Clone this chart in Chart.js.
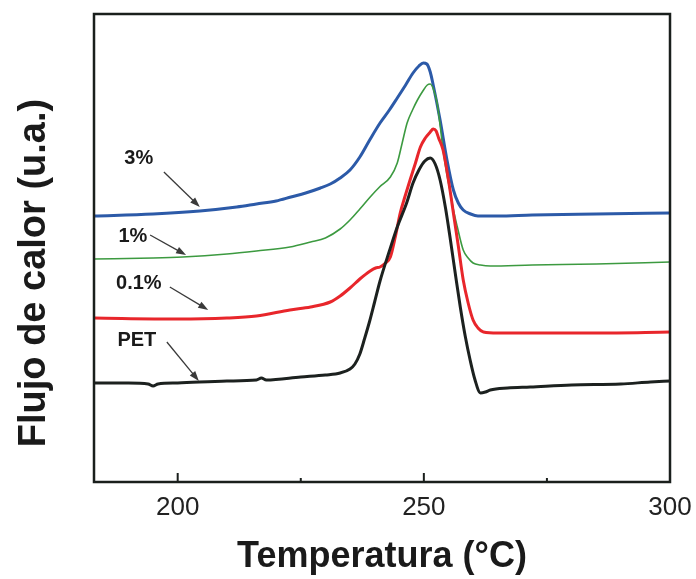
<!DOCTYPE html>
<html>
<head>
<meta charset="utf-8">
<script src="https://cdn.jsdelivr.net/npm/chart.js@4.4.1/dist/chart.umd.min.js"></script>
<style>
    body { margin: 0; background: #ffffff; }
    canvas { display: block; }
</style>
</head>
<body>
<canvas id="dscChart" width="696" height="579"></canvas>
<script>
// Temperature (°C) and heat flow (a.u.)
const petTemp = [183, 190, 194, 195, 196, 200, 210, 216, 217, 218, 225, 230, 233, 235, 236, 237, 238, 239, 240, 241.1, 243, 244.6, 246.5, 247.8, 249, 250.2, 251.3, 252.3, 253.3, 254.4, 255.4, 256.4, 257.4, 258.4, 259.4, 260.4, 261.5, 262.5, 263.5, 267, 271.6, 280, 290, 296, 300];
const petFlow = [99, 99, 98, 96, 98, 99, 101, 102, 104, 102, 105, 107, 109, 113, 118, 128, 144, 161, 180, 201, 231, 255, 279, 299, 312, 321, 324, 318, 302, 274, 242, 208, 175, 146, 122, 102, 89, 90, 92, 94, 95, 97, 98, 100, 101];

const p01Temp = [183, 200, 210, 216, 222.8, 227, 231, 233, 235, 237, 239.1, 240.2, 241.1, 242.2, 243.2, 244.2, 245.2, 246.2, 247.2, 248.3, 249.3, 250.3, 251.3, 251.9, 252.5, 253, 253.9, 255, 256, 257, 258, 259, 260, 261, 262.1, 265, 272, 285, 300];
const p01Flow = [164, 163, 164, 166, 172, 175, 180, 186, 194, 203, 211, 214, 215, 219, 225, 245, 269, 286, 302, 319, 335, 344, 350, 353, 351, 344, 332, 302, 269, 236, 202, 179, 162, 154, 150, 149, 149, 149, 150];

const p1Temp = [183, 195, 201, 210, 216, 222.8, 227, 230, 233, 235, 237, 239.1, 241, 243.2, 244.6, 245.6, 246.6, 247.7, 248.7, 249.8, 250.7, 251.3, 252, 252.7, 253.3, 253.9, 254.6, 255.4, 256.1, 256.8, 258, 259, 260, 261.5, 263.5, 272, 285, 300];
const p1Flow = [223, 224, 225, 228, 231, 235, 240, 244, 253, 262, 273, 285, 295, 305, 319, 339, 359, 372, 382, 391, 397, 398, 392, 379, 357, 332, 310, 289, 270, 255, 232, 224, 219, 217, 216, 217, 218, 220];

const p3Temp = [183, 195, 204.5, 212, 216, 220, 223, 226, 229, 231, 233, 235, 237, 239, 241.1, 243, 244.6, 246.3, 247.8, 249, 249.9, 250.6, 251.3, 251.9, 253.3, 254.7, 256, 257, 258, 259.5, 261, 265, 272, 285, 300];
const p3Flow = [266, 268, 271, 275, 278, 281, 285, 289, 294, 298, 304, 312, 325, 342, 359, 372, 384, 397, 409, 416, 419, 418, 410, 397, 362, 322, 292, 279, 272, 268, 266, 266, 267, 268, 269];

const xTicks = [200, 250, 300];
const xMinorTicks = [225, 275];

// curve labels with arrows (data units)
const noteText = ['3%', '1%', '0.1%', 'PET'];
const noteX = [192.1, 190.9, 192.1, 191.7];
const noteY = [324, 246, 199, 142];
const arrowFromX = [197.2, 194.4, 198.4, 197.8];
const arrowFromY = [310, 247, 195, 140];
const arrowToX = [204.5, 201.7, 206.2, 204.3];
const arrowToY = [275, 227, 172, 101];

function points(xs, ys) {
    return xs.map((x, i) => ({ x: x, y: ys[i] }));
}

const fontFamily = "'Liberation Sans', Arial, sans-serif";

const framePlugin = {
    id: 'frame',
    afterDraw(chart) {
        const ctx = chart.ctx;
        const area = chart.chartArea;
        const xs = chart.scales.x;
        const ys = chart.scales.y;
        ctx.save();

        // box around the plot
        ctx.strokeStyle = '#1a1f1c';
        ctx.lineWidth = 2.5;
        ctx.strokeRect(area.left, area.top, area.right - area.left, area.bottom - area.top);

        // inward tick marks on the bottom axis
        ctx.lineWidth = 2;
        xTicks.forEach(v => {
            const px = xs.getPixelForValue(v);
            ctx.beginPath();
            ctx.moveTo(px, area.bottom);
            ctx.lineTo(px, area.bottom - 9);
            ctx.stroke();
        });
        xMinorTicks.forEach(v => {
            const px = xs.getPixelForValue(v);
            ctx.beginPath();
            ctx.moveTo(px, area.bottom);
            ctx.lineTo(px, area.bottom - 4);
            ctx.stroke();
        });

        // y title, drawn by hand (it sits a bit below the middle of the axis)
        ctx.save();
        ctx.translate(35, 273);
        ctx.rotate(-Math.PI / 2);
        ctx.fillStyle = '#1a1a1a';
        ctx.font = 'bold 38px ' + fontFamily;
        ctx.textAlign = 'center';
        ctx.textBaseline = 'middle';
        ctx.fillText('Flujo de calor (u.a.)', 0, 0);
        ctx.restore();

        // labels + arrows
        ctx.fillStyle = '#1a1a1a';
        ctx.font = 'bold 20px ' + fontFamily;
        ctx.textAlign = 'center';
        ctx.textBaseline = 'middle';
        noteText.forEach((t, i) => {
            ctx.fillStyle = '#1a1a1a';
            ctx.fillText(t, xs.getPixelForValue(noteX[i]), ys.getPixelForValue(noteY[i]));

            const x0 = xs.getPixelForValue(arrowFromX[i]);
            const y0 = ys.getPixelForValue(arrowFromY[i]);
            const x1 = xs.getPixelForValue(arrowToX[i]);
            const y1 = ys.getPixelForValue(arrowToY[i]);
            const ang = Math.atan2(y1 - y0, x1 - x0);
            ctx.strokeStyle = '#3a3a3a';
            ctx.fillStyle = '#3a3a3a';
            ctx.lineWidth = 1.3;
            ctx.beginPath();
            ctx.moveTo(x0, y0);
            ctx.lineTo(x1 - 6 * Math.cos(ang), y1 - 6 * Math.sin(ang));
            ctx.stroke();
            ctx.beginPath();
            ctx.moveTo(x1, y1);
            ctx.lineTo(x1 - 10 * Math.cos(ang) + 3.5 * Math.sin(ang), y1 - 10 * Math.sin(ang) - 3.5 * Math.cos(ang));
            ctx.lineTo(x1 - 10 * Math.cos(ang) - 3.5 * Math.sin(ang), y1 - 10 * Math.sin(ang) + 3.5 * Math.cos(ang));
            ctx.closePath();
            ctx.fill();
        });
        ctx.restore();
    }
};

function line(label, xs, ys, color, width) {
    return {
        label: label,
        data: points(xs, ys),
        borderColor: color,
        borderWidth: width,
        pointRadius: 0,
        fill: false,
        cubicInterpolationMode: 'monotone'
    };
}

new Chart(document.getElementById('dscChart'), {
    type: 'line',
    data: {
        datasets: [
            line('PET', petTemp, petFlow, '#1c211f', 3),
            line('0.1%', p01Temp, p01Flow, '#e8262b', 3),
            line('1%', p1Temp, p1Flow, '#3c9a40', 1.6),
            line('3%', p3Temp, p3Flow, '#2c5aa8', 3)
        ]
    },
    options: {
        responsive: false,
        animation: false,
        layout: { padding: { top: 14, right: 26, bottom: 0, left: 0 } },
        plugins: {
            legend: { display: false },
            tooltip: { enabled: false }
        },
        scales: {
            x: {
                type: 'linear',
                min: 183,
                max: 300,
                afterBuildTicks: scale => { scale.ticks = xTicks.map(v => ({ value: v })); },
                afterFit: scale => {
                    scale.height = 97;
                    scale.paddingLeft = 0;
                    scale.paddingRight = 0;
                },
                grid: { display: false, drawTicks: false },
                border: { display: false },
                ticks: {
                    color: '#222',
                    padding: 10,
                    maxRotation: 0,
                    font: { family: fontFamily, size: 26 }
                },
                title: {
                    display: true,
                    text: 'Temperatura (°C)',
                    color: '#1a1a1a',
                    padding: { top: 0, bottom: 0 },
                    font: { family: fontFamily, size: 36, weight: 'bold' }
                }
            },
            y: {
                type: 'linear',
                min: 0,
                max: 468,
                afterFit: scale => { scale.width = 94; },
                grid: { display: false, drawTicks: false },
                border: { display: false },
                ticks: { display: false }
            }
        }
    },
    plugins: [framePlugin]
});
</script>
</body>
</html>
